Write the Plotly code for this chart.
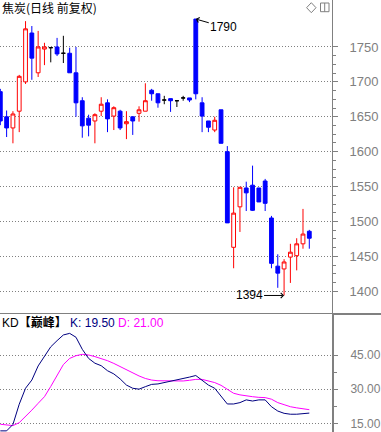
import plotly.graph_objects as go

# ---------------- data ----------------
opens = [1686, 1650, 1634, 1658, 1700, 1770, 1713, 1747, 1749, 1750,
         1741, 1741, 1713, 1673, 1648, 1644, 1658, 1670, 1651, 1658,
         1640, 1650, 1655, 1658, 1688, 1683, 1674, 1676, 1673, 1677,
         1677, 1790, 1670, 1644, 1631, 1660, 1600, 1463, 1521, 1548,
         1552, 1548, 1558, 1505, 1436, 1432, 1449, 1451, 1468, 1486]
highs = [1690, 1659, 1658, 1710, 1787, 1780, 1773, 1756, 1750, 1763,
         1766, 1749, 1750, 1678, 1653, 1655, 1678, 1675, 1665, 1660,
         1658, 1650, 1665, 1698, 1690, 1683, 1680, 1676, 1673, 1680,
         1677, 1790, 1678, 1644, 1650, 1660, 1608, 1549, 1549, 1557,
         1580, 1548, 1561, 1508, 1453, 1446, 1468, 1476, 1518, 1488]
lows = [1638, 1621, 1612, 1628, 1697, 1703, 1707, 1724, 1728, 1737,
        1727, 1713, 1650, 1620, 1622, 1612, 1651, 1628, 1631, 1631,
        1618, 1624, 1643, 1658, 1673, 1663, 1668, 1657, 1664, 1673,
        1671, 1675, 1628, 1628, 1628, 1612, 1498, 1433, 1485, 1515,
        1515, 1528, 1515, 1433, 1405, 1394, 1412, 1430, 1461, 1461]
closes = [1644, 1634, 1654, 1708, 1776, 1734, 1750, 1750, 1749, 1740,
          1741, 1713, 1670, 1637, 1638, 1653, 1668, 1647, 1663, 1634,
          1643, 1644, 1660, 1673, 1683, 1670, 1674, 1673, 1673, 1677,
          1674, 1683, 1651, 1635, 1645, 1612, 1498, 1512, 1549, 1541,
          1516, 1528, 1526, 1440, 1426, 1442, 1456, 1468, 1482, 1476]

k_vals = [11.7, 11.7, 14.5, 23.4, 30.4, 34.0, 40.2, 44.6, 48.6, 51.3,
          53.8, 54.5, 52.8, 47.5, 43.5, 41.4, 40.3, 38.1, 36.7, 34.5,
          31.8, 30.4, 30.0, 31.1, 32.1, 32.3, 32.9, 33.3, 34.0, 34.4,
          35.3, 36.0, 34.0, 31.8, 30.4, 26.7, 23.5, 23.5, 24.1, 25.3,
          24.8, 25.3, 25.3, 22.3, 20.4, 19.4, 19.0, 19.0, 19.4, 19.5]
d_vals = [14.6, 14.3, 14.0, 15.3, 17.9, 20.8, 23.8, 26.7, 31.2, 36.3,
          40.8, 43.5, 44.7, 45.3, 45.0, 44.3, 43.5, 42.5, 41.3, 39.9,
          38.4, 36.9, 35.8, 34.7, 34.0, 33.7, 33.6, 33.6, 33.7, 33.6,
          33.9, 34.3, 34.3, 33.6, 32.9, 31.7, 30.0, 28.2, 27.5, 27.0,
          26.7, 26.4, 26.3, 25.6, 24.1, 23.2, 22.3, 21.8, 21.3, 21.0]

price_ticks = [1400, 1450, 1500, 1550, 1600, 1650, 1700, 1750]
kd_ticks = [15, 30, 45]
title_text = "焦炭(日线 前复权)"
kd_name = "KD<b>【巅峰】</b>"
k_label = "K: 19.50"
d_label = "D: 21.00"
high_label = "1790"
low_label = "1394"

# ---------------- styling ----------------
W, H = 381, 432
PW = 332          # right edge of plot area (axis line)
GRAY = "#808080"
RED = "#FF0000"
BLUE = "#0000FF"
NAVY = "#000080"
MAG = "#FF00FF"
NUMFONT = "Liberation Sans, Arial, sans-serif"
CJKFONT = "Noto Sans CJK SC, sans-serif"


def pxx(px):
    return px / PW


def pxy(py):
    return 1 - py / H


xs = list(range(len(opens)))
up = [i for i in xs if closes[i] > opens[i]]
dn = [i for i in xs if closes[i] < opens[i]]
dj = [i for i in xs if closes[i] == opens[i]]


def candles(idx, line_col, fill_col):
    style = dict(line=dict(color=line_col, width=1), fillcolor=fill_col)
    return go.Candlestick(
        x=idx,
        open=[opens[i] for i in idx],
        high=[highs[i] for i in idx],
        low=[lows[i] for i in idx],
        close=[closes[i] for i in idx],
        increasing=style, decreasing=style,
        whiskerwidth=0, showlegend=False, hoverinfo="skip",
        xaxis="x", yaxis="y")


fig = go.Figure()
fig.add_trace(candles(up, RED, "#FFFFFF"))
fig.add_trace(candles(dn, BLUE, BLUE))
fig.add_trace(candles(dj, "#000000", "#000000"))

fig.add_trace(go.Scatter(x=xs, y=d_vals, mode="lines",
                         line=dict(color=MAG, width=1),
                         xaxis="x", yaxis="y2", showlegend=False, hoverinfo="skip"))
fig.add_trace(go.Scatter(x=xs, y=k_vals, mode="lines",
                         line=dict(color=NAVY, width=1),
                         xaxis="x", yaxis="y2", showlegend=False, hoverinfo="skip"))

price_minor = [a + (b - a) * f for a, b in zip(price_ticks[:-1], price_ticks[1:])
               for f in (0.25, 0.5, 0.75)]
kd_minor = [(a + b) / 2 for a, b in zip(kd_ticks[:-1], kd_ticks[1:])]

top_dom = [1 - 313 / H, 1]
bot_dom = [0, 1 - 314 / H]

axis_common = dict(
    side="right", anchor="x", showline=True, linecolor=GRAY,
    ticks="outside", tickcolor=GRAY, tickwidth=1,
    showgrid=True, gridcolor=GRAY, gridwidth=1, griddash="1px,2px",
    zeroline=False, tickmode="array", fixedrange=True, automargin=False,
)

fig.update_layout(
    width=W, height=H,
    margin=dict(l=0, r=W - PW, t=0, b=0, autoexpand=False),
    paper_bgcolor="white", plot_bgcolor="white",
    showlegend=False, hovermode=False,
    boxgap=0.4, boxgroupgap=0,
    xaxis=dict(range=[-0.05, 52.6], visible=False, showgrid=False,
               zeroline=False, rangeslider=dict(visible=False), fixedrange=True),
    yaxis=dict(domain=top_dom, range=[1368.9, 1817.3], tickvals=price_ticks,
               ticklen=5, linewidth=1, ticklabelstandoff=9,
               tickfont=dict(family=NUMFONT, size=13, color=GRAY),
               minor=dict(tickmode="array", tickvals=price_minor, ticks="outside",
                          ticklen=3, tickcolor=GRAY, showgrid=False),
               **axis_common),
    yaxis2=dict(domain=bot_dom, range=[11.2, 63.0], tickvals=kd_ticks,
                ticklen=4, linewidth=2, tickformat=".2f", ticklabelstandoff=10,
                tickfont=dict(family=NUMFONT, size=12, color=GRAY),
                minor=dict(tickmode="array", tickvals=kd_minor, ticks="outside",
                           ticklen=3, tickcolor=GRAY, showgrid=False),
                **axis_common),
)

# separator between panels + top-right icons
fig.add_shape(type="line", xref="paper", yref="paper",
              x0=0, x1=W / PW, y0=pxy(313.5), y1=pxy(313.5),
              line=dict(color=GRAY, width=1))
fig.add_shape(type="line", xref="paper", yref="paper",
              x0=1, x1=W / PW, y0=pxy(314), y1=pxy(314),
              line=dict(color=GRAY, width=2))
dia = "M {:.5f},{:.5f} L {:.5f},{:.5f} L {:.5f},{:.5f} L {:.5f},{:.5f} Z".format(
    pxx(311.3), pxy(2.7), pxx(316), pxy(7.7), pxx(311.3), pxy(12.7), pxx(306.6), pxy(7.7))
fig.add_shape(type="path", xref="paper", yref="paper", path=dia,
              line=dict(color=GRAY, width=1))
fig.add_shape(type="rect", xref="paper", yref="paper",
              x0=pxx(320.5), x1=pxx(329), y0=pxy(3), y1=pxy(11.7),
              line=dict(color=GRAY, width=1))
fig.add_shape(type="line", xref="paper", yref="paper",
              x0=pxx(324.7), x1=pxx(324.7), y0=pxy(3), y1=pxy(11.7),
              line=dict(color=GRAY, width=1))

# texts
fig.add_annotation(xref="paper", yref="paper", x=0, y=pxy(8),
                   xanchor="left", yanchor="middle", showarrow=False,
                   text=title_text, font=dict(family=CJKFONT, size=12, color="black"))
fig.add_annotation(xref="paper", yref="paper", x=0, y=pxy(322),
                   xanchor="left", yanchor="middle", showarrow=False,
                   text=(kd_name + " <span style='color:%s'>%s</span>"
                         " <span style='color:%s'>%s</span>") % (NAVY, k_label, MAG, d_label),
                   font=dict(family="Liberation Sans, Noto Sans CJK SC, sans-serif",
                             size=12, color="black"))

hi_i = highs.index(max(highs))
lo_i = lows.index(min(lows))
fig.add_annotation(x=hi_i, y=highs[hi_i], xref="x", yref="y", text=high_label,
                   showarrow=True, arrowhead=4, arrowsize=1, arrowwidth=1,
                   arrowcolor="black", ax=28, ay=8,
                   font=dict(family=NUMFONT, size=12, color="black"))
fig.add_annotation(x=lo_i, y=lows[lo_i], xref="x", yref="y", text=low_label,
                   showarrow=True, arrowhead=4, arrowsize=1, arrowwidth=1,
                   arrowcolor="black", ax=-35, ay=0,
                   font=dict(family=NUMFONT, size=12, color="black"))

fig.write_html("out.html", config={"displayModeBar": False})
